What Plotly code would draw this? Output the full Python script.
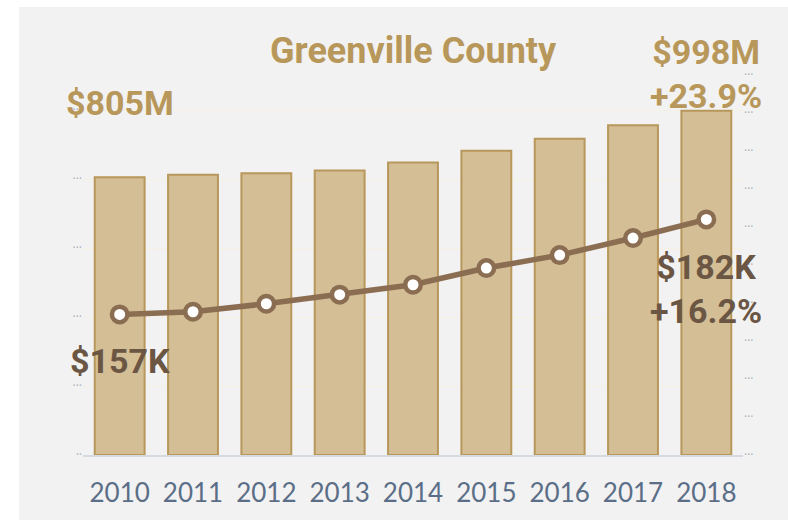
import plotly.graph_objects as go

# Data
years = ["2010", "2011", "2012", "2013", "2014", "2015", "2016", "2017", "2018"]
total_value_m = [805, 812, 817, 825, 848, 882, 917, 956, 998]        # bars, $ millions
median_value_k = [157, 157.7, 159.8, 162.2, 164.8, 169.2, 172.6, 177.1, 182]  # line, $ thousands

left_ticks = [0, 200, 400, 600, 800, 1000]
right_ticks = [120, 130, 140, 150, 160, 170, 180, 190, 200, 210, 220]

title_text = "Greenville County"
bar_start_label = "$805M"
bar_end_label = "$998M<br>+23.9%"
line_start_label = "$157K"
line_end_label = "$182K<br>+16.2%"

GOLD = "#b8975a"
BAR_FILL = "#d3be96"
BROWN = "#8b6d52"
DARK_BROWN = "#6b5644"
BG = "#f2f2f2"
TICK_DOTS = "#a9b0bc"
BOLD_FONT = "Roboto, Lato, sans-serif"
TICK_FONT = "Lato, Roboto, sans-serif"

W, H = 788, 521
L, R, T, B = 83, 45, 60, 66
plot_w = W - L - R
plot_h = H - T - B

xpos = list(range(len(years)))

fig = go.Figure()

fig.add_trace(go.Bar(
    x=xpos, y=total_value_m,
    marker=dict(color=BAR_FILL, line=dict(color=GOLD, width=2)),
    hoverinfo="skip",
))

fig.add_trace(go.Scatter(
    x=xpos, y=median_value_k, yaxis="y2",
    mode="lines+markers",
    line=dict(color=BROWN, width=5.5),
    marker=dict(size=15.5, color="white", line=dict(color=BROWN, width=4.5)),
    hoverinfo="skip",
))

def px_to_paper_x(px):
    return (px - L) / plot_w

def px_to_paper_y(py):
    return (H - B - py) / plot_h

# Grey panel behind the chart
fig.add_shape(
    type="rect", xref="paper", yref="paper",
    x0=px_to_paper_x(19), x1=px_to_paper_x(W),
    y0=px_to_paper_y(520), y1=px_to_paper_y(7),
    fillcolor=BG, line=dict(width=0), layer="below",
)

def bold(s):
    return "<br>".join(f"<b>{part}</b>" for part in s.split("<br>"))

annotations = [
    dict(text=bold(title_text), xref="paper", yref="paper", x=0.5, y=px_to_paper_y(51),
         font=dict(size=36, color=GOLD, family=BOLD_FONT)),
    dict(text=bold(bar_start_label), xref="x", yref="y", x=xpos[0], y=total_value_m[0],
         yshift=74, font=dict(size=34, color=GOLD, family=BOLD_FONT)),
    dict(text=bold(bar_end_label), xref="x", yref="y", x=xpos[-1], y=total_value_m[-1],
         yshift=37, font=dict(size=34, color=GOLD, family=BOLD_FONT)),
    dict(text=bold(line_start_label), xref="x", yref="y2", x=xpos[0], y=median_value_k[0],
         yshift=-47, font=dict(size=34, color=DARK_BROWN, family=BOLD_FONT)),
    dict(text=bold(line_end_label), xref="x", yref="y2", x=xpos[-1], y=median_value_k[-1],
         yshift=-70, font=dict(size=34, color=DARK_BROWN, family=BOLD_FONT)),
]
for a in annotations:
    a.update(showarrow=False, xanchor="center", yanchor="middle")

fig.update_layout(
    width=W, height=H,
    margin=dict(l=L, r=R, t=T, b=B, pad=0),
    paper_bgcolor="white",
    plot_bgcolor=BG,
    showlegend=False,
    bargap=0.32,
    annotations=annotations,
    xaxis=dict(
        range=[-0.5, len(years) - 0.5], autorange=False,
        tickmode="array", tickvals=xpos, ticktext=years,
        showgrid=False, showline=True, linecolor="#d5dae1", linewidth=2,
        zeroline=False, ticks="", tickfont=dict(size=26, color="#5b6e87", family=TICK_FONT),
        ticklabelstandoff=14,
    ),
    yaxis=dict(
        range=[0, (H - B - T) / 0.345], autorange=False, tickvals=left_ticks,
        ticktext=["··" if v == 0 else "···" for v in left_ticks],
        tickfont=dict(size=12, color=TICK_DOTS),
        showgrid=True, gridcolor="#f6f0e3", gridwidth=1,
        zeroline=False, showline=False, ticks="",
    ),
    yaxis2=dict(
        overlaying="y", side="right",
        range=[120, 120 + (H - B - T) / 3.8], autorange=False, tickvals=right_ticks,
        ticktext=["···" for _ in right_ticks],
        tickfont=dict(size=12, color=TICK_DOTS),
        showgrid=False, zeroline=False, showline=False, ticks="",
    ),
)

fig.write_html("out.html")
